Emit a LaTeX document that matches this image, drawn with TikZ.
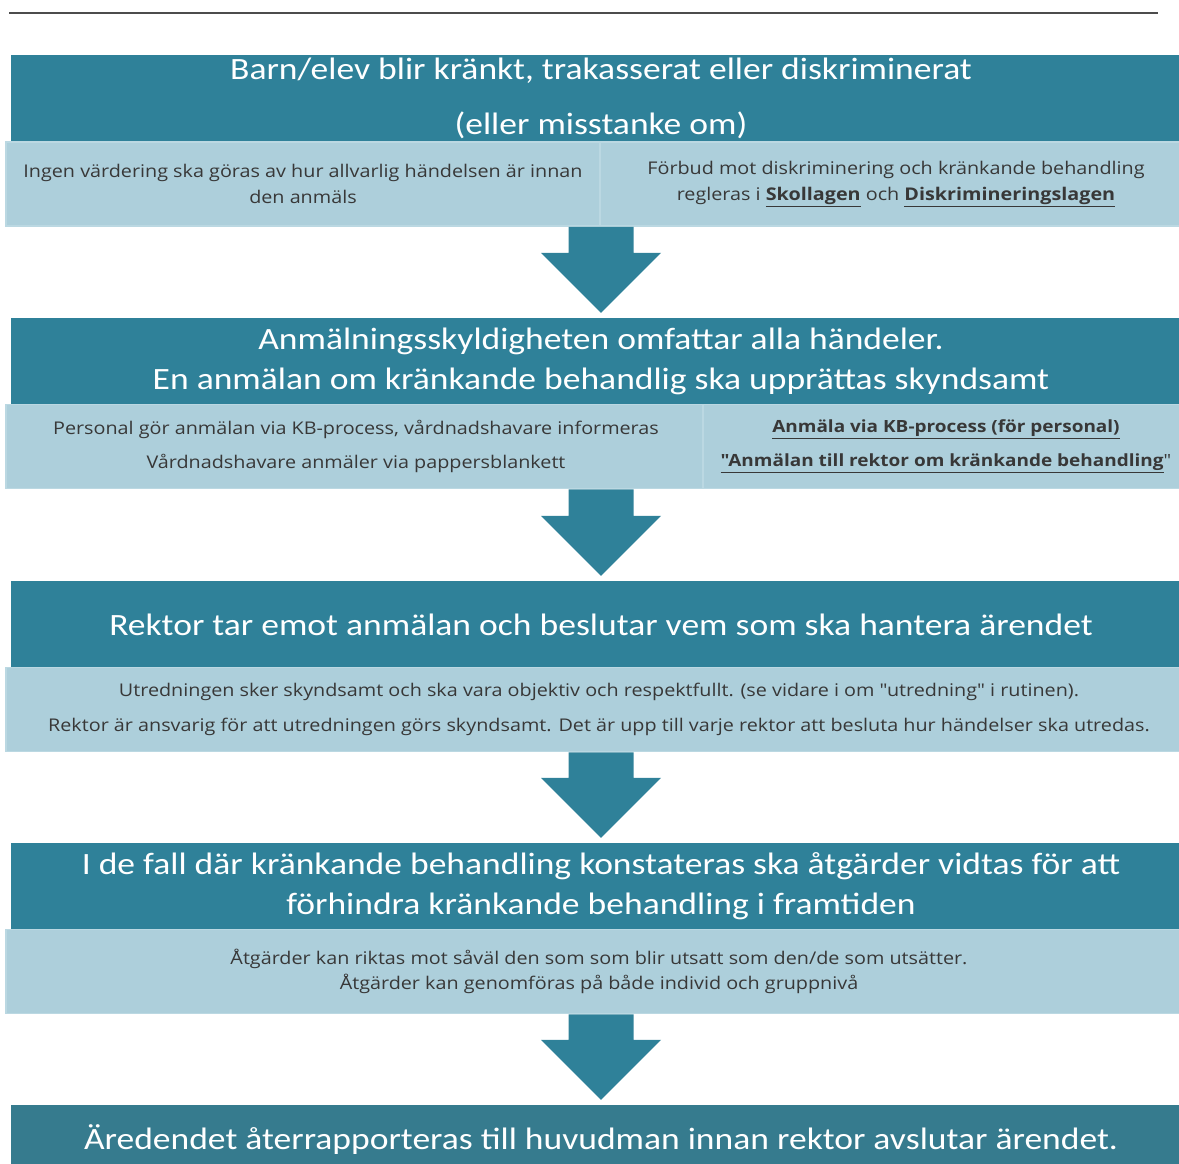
\documentclass[tikz,border=0pt]{standalone}
\usepackage{fontspec}
\setmainfont{Carlito}[FakeStretch=1.147]
\newfontfamily\notefont{Open Sans}[FakeStretch=1.13]
\usetikzlibrary{calc,positioning}

\definecolor{teal}{HTML}{2F8199}
\definecolor{tealdark}{HTML}{367B8E}
\definecolor{pale}{HTML}{ADCFDB}
\definecolor{paleedge}{HTML}{BBD8E2}
\definecolor{notegray}{HTML}{383838}

\begin{document}
\begin{tikzpicture}[x=1pt, y=-1pt]
        \tikzstyle{head} = [rectangle, fill=teal, text=white, minimum width=1180pt, minimum height=87pt,
            inner sep=0pt, align=center, font=\fontsize{31}{40}\selectfont]
        \tikzstyle{note} = [rectangle, fill=pale, draw=paleedge, line width=1.5pt, text=notegray,
            minimum height=84pt, inner sep=0pt, align=center, font=\notefont\fontsize{17.5}{26}\selectfont]
        \tikzstyle{flow} = [fill=teal, to path={let \p1=(\tikztostart), \p2=(\tikztotarget) in
            (\x1-32.5pt,\y1) -- (\x1+32.5pt,\y1) -- (\x1+32.5pt,\y2+65pt) -- (\x1+60pt,\y2+65pt)
            -- (\x1,\y2+5pt) -- (\x1-60pt,\y2+65pt) -- (\x1-32.5pt,\y2+65pt) -- cycle}]

        \useasboundingbox (0, 0) rectangle (1179, 1164);
        \draw[line width=2pt, draw=black!70] (9, 13) -- (1158, 13);

        \node[head](d1) at(601, 98.5) {Barn/elev blir kränkt, trakasserat eller diskriminerat\\[15pt](eller misstanke om)};
        \node[note, minimum width=594pt](l1a) at(303, 184) {Ingen värdering ska göras av hur allvarlig händelsen är innan\\den anmäls};
        \node[note, minimum width=592pt](l1b) at(896, 184) {Förbud mot diskriminering och kränkande behandling\\regleras i \underline{\textbf{Skollagen}} och \underline{\textbf{Diskrimineringslagen}}};

        \node[head](d2) at(601, 361.5) {Anmälningsskyldigheten omfattar alla händeler.\\En anmälan om kränkande behandlig ska upprättas skyndsamt};
        \node[note, minimum width=700pt, font=\notefont\fontsize{17.5}{34}\selectfont](l2a) at(356, 446.5) {Personal gör anmälan via KB-process, vårdnadshavare informeras\\Vårdnadshavare anmäler via pappersblankett};
        \node[note, minimum width=486pt, font=\notefont\fontsize{16.8}{34}\selectfont](l2b) at(946, 446.5) {\underline{\textbf{Anmäla via KB-process (för personal)}}\\\underline{\textbf{"Anmälan till rektor om kränkande behandling}}"};

        \node[head](d3) at(601, 624.5) {Rektor tar emot anmälan och beslutar vem som ska hantera ärendet};
        \node[note, minimum width=1186pt, font=\notefont\fontsize{17.5}{35}\selectfont](l3) at(599, 709.5) {Utredningen sker skyndsamt och ska vara objektiv och respektfullt. (se vidare i om "utredning" i rutinen).\\Rektor är ansvarig för att utredningen görs skyndsamt. Det är upp till varje rektor att besluta hur händelser ska utredas.};

        \node[head](d4) at(601, 886.5) {I de fall där kränkande behandling konstateras ska åtgärder vidtas för att\\förhindra kränkande behandling i framtiden};
        \node[note, minimum width=1186pt, font=\notefont\fontsize{17.5}{25}\selectfont](l4) at(599, 971.5) {Åtgärder kan riktas mot såväl den som som blir utsatt som den/de som utsätter.\\Åtgärder kan genomföras på både individ och gruppnivå};

        \node[head, fill=tealdark](d5) at(601, 1148.5) {\raisebox{23pt}{Äredendet återrapporteras till huvudman innan rektor avslutar ärendet.}};

        \path[flow] (d2.north |- l1a.south) to (d2.north);
        \path[flow] (d3.north |- l2a.south) to (d3.north);
        \path[flow] (d4.north |- l3.south) to (d4.north);
        \path[flow] (d5.north |- l4.south) to (d5.north);
    \end{tikzpicture}
\end{document}
